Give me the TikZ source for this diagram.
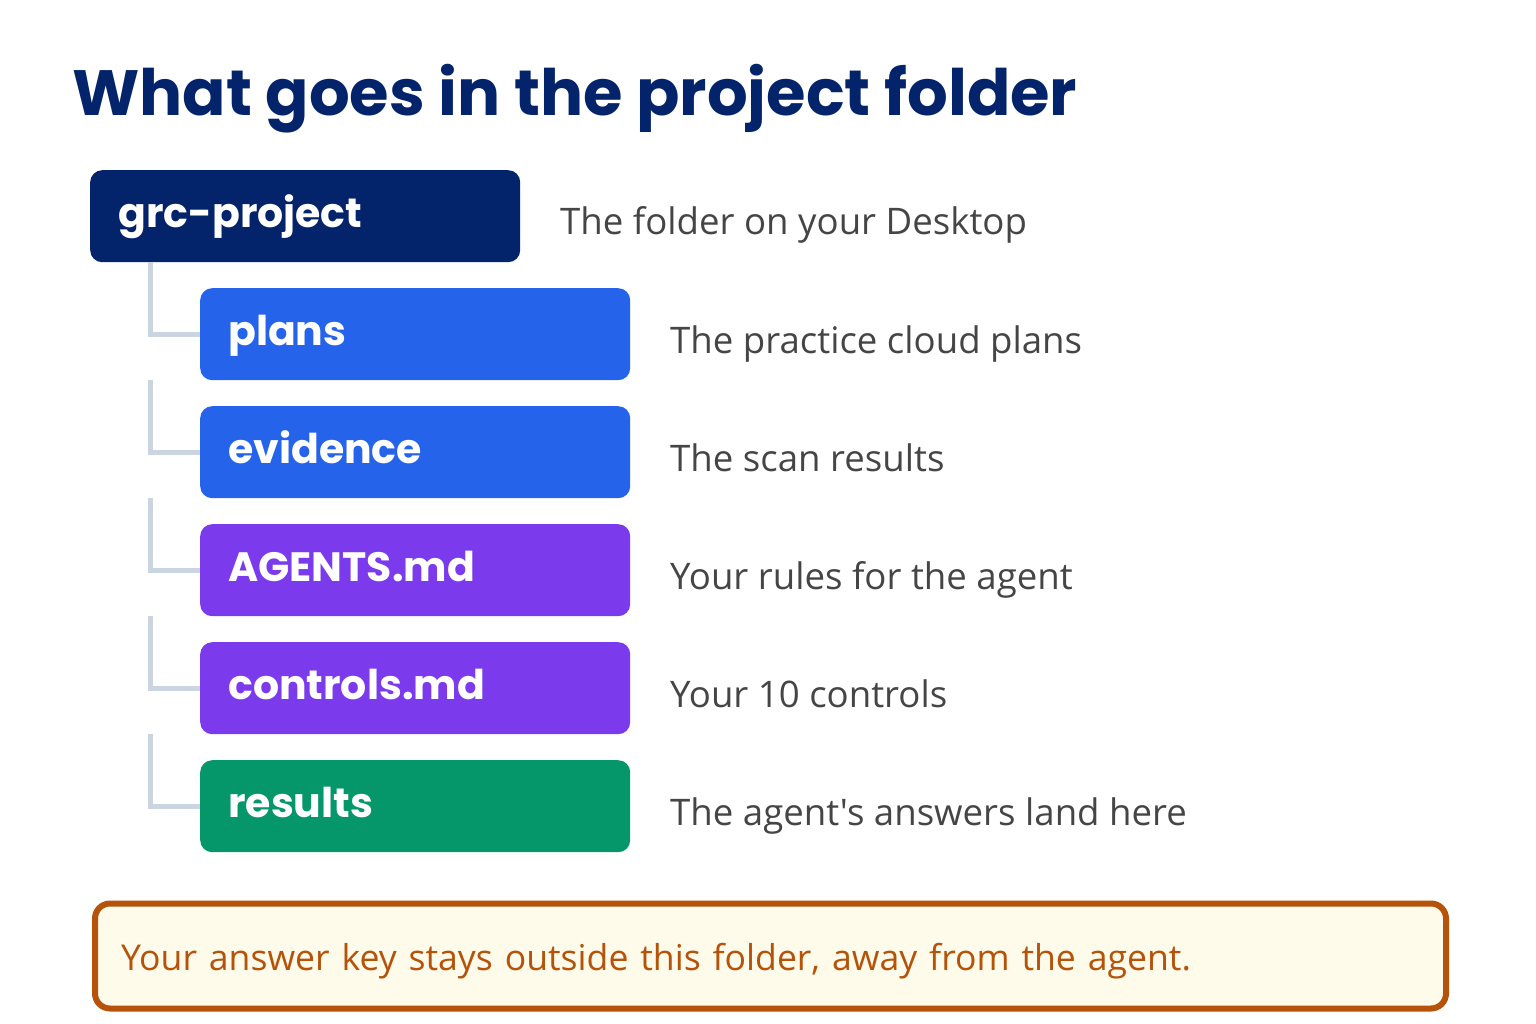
\documentclass[tikz,border=0pt]{standalone}
\usepackage{fontspec}
\setmainfont{Open Sans}[Ligatures=TeXOff]
\newfontfamily\headfont{Poppins}
\definecolor{navy}{HTML}{03236A}
\definecolor{planblue}{HTML}{2563EB}
\definecolor{mdpurple}{HTML}{7C3AED}
\definecolor{resgreen}{HTML}{059669}
\definecolor{treegray}{HTML}{CBD5E1}
\definecolor{desctext}{HTML}{454545}
\definecolor{notefill}{HTML}{FEFBEA}
\definecolor{noteedge}{HTML}{B45309}
\begin{document}
\begin{tikzpicture}[x=1pt, y=-1pt,
  folderbox/.style = {anchor=north west, rounded corners=12pt, inner xsep=28pt, inner ysep=0pt,
    text width=374pt, minimum height=92pt, text height=22pt, text depth=0pt,
    text=white, font=\headfont\bfseries\fontsize{41}{48}\selectfont},
  desc/.style = {anchor=base west, inner sep=0pt, text=desctext, font=\fontsize{36.6}{44}\selectfont},
  treeline/.style = {treegray, line width=5pt}]
\useasboundingbox (0,0) rectangle (1536,1024);

\node[anchor=base west, inner sep=0pt, text=navy, font=\headfont\bfseries\fontsize{64}{74}\selectfont]
  (title) at (72,116) {What goes in the project folder};

\node[folderbox, fill=navy] (root) at (90,170) {grc-project};
\node[desc] (rootdesc) at (560,235) {The folder on your Desktop};

\node[folderbox, fill=planblue] (plans) at (200,288) {plans};
\node[folderbox, fill=planblue] (evidence) at (200,406) {evidence};
\node[folderbox, fill=mdpurple] (agents) at (200,524) {AGENTS.md};
\node[folderbox, fill=mdpurple] (controls) at (200,642) {controls.md};
\node[folderbox, fill=resgreen] (results) at (200,760) {results};

\node[desc] (plansdesc) at (670,353) {The practice cloud plans};
\node[desc] (evidencedesc) at (670,471) {The scan results};
\node[desc] (agentsdesc) at (670,589) {Your rules for the agent};
\node[desc] (controlsdesc) at (670,707) {Your 10 controls};
\node[desc] (resultsdesc) at (670,825) {The agent's answers land here};

\draw[treeline] ([xshift=60pt]root.south west) |- (plans.west);
\draw[treeline] ([xshift=-50pt]plans.south west) |- (evidence.west);
\draw[treeline] ([xshift=-50pt]evidence.south west) |- (agents.west);
\draw[treeline] ([xshift=-50pt]agents.south west) |- (controls.west);
\draw[treeline] ([xshift=-50pt]controls.south west) |- (results.west);

\node[anchor=north west, draw=noteedge, line width=6pt, fill=notefill, rounded corners=15pt,
  inner xsep=26pt, inner ysep=0pt, text width=1299pt, minimum height=105pt,
  text height=28pt, text depth=0pt, text=noteedge, font=\fontsize{35.6}{44}\selectfont]
  (note) at (92,900.5) {Your answer key stays outside this folder, away from the agent.};
\end{tikzpicture}
\end{document}
